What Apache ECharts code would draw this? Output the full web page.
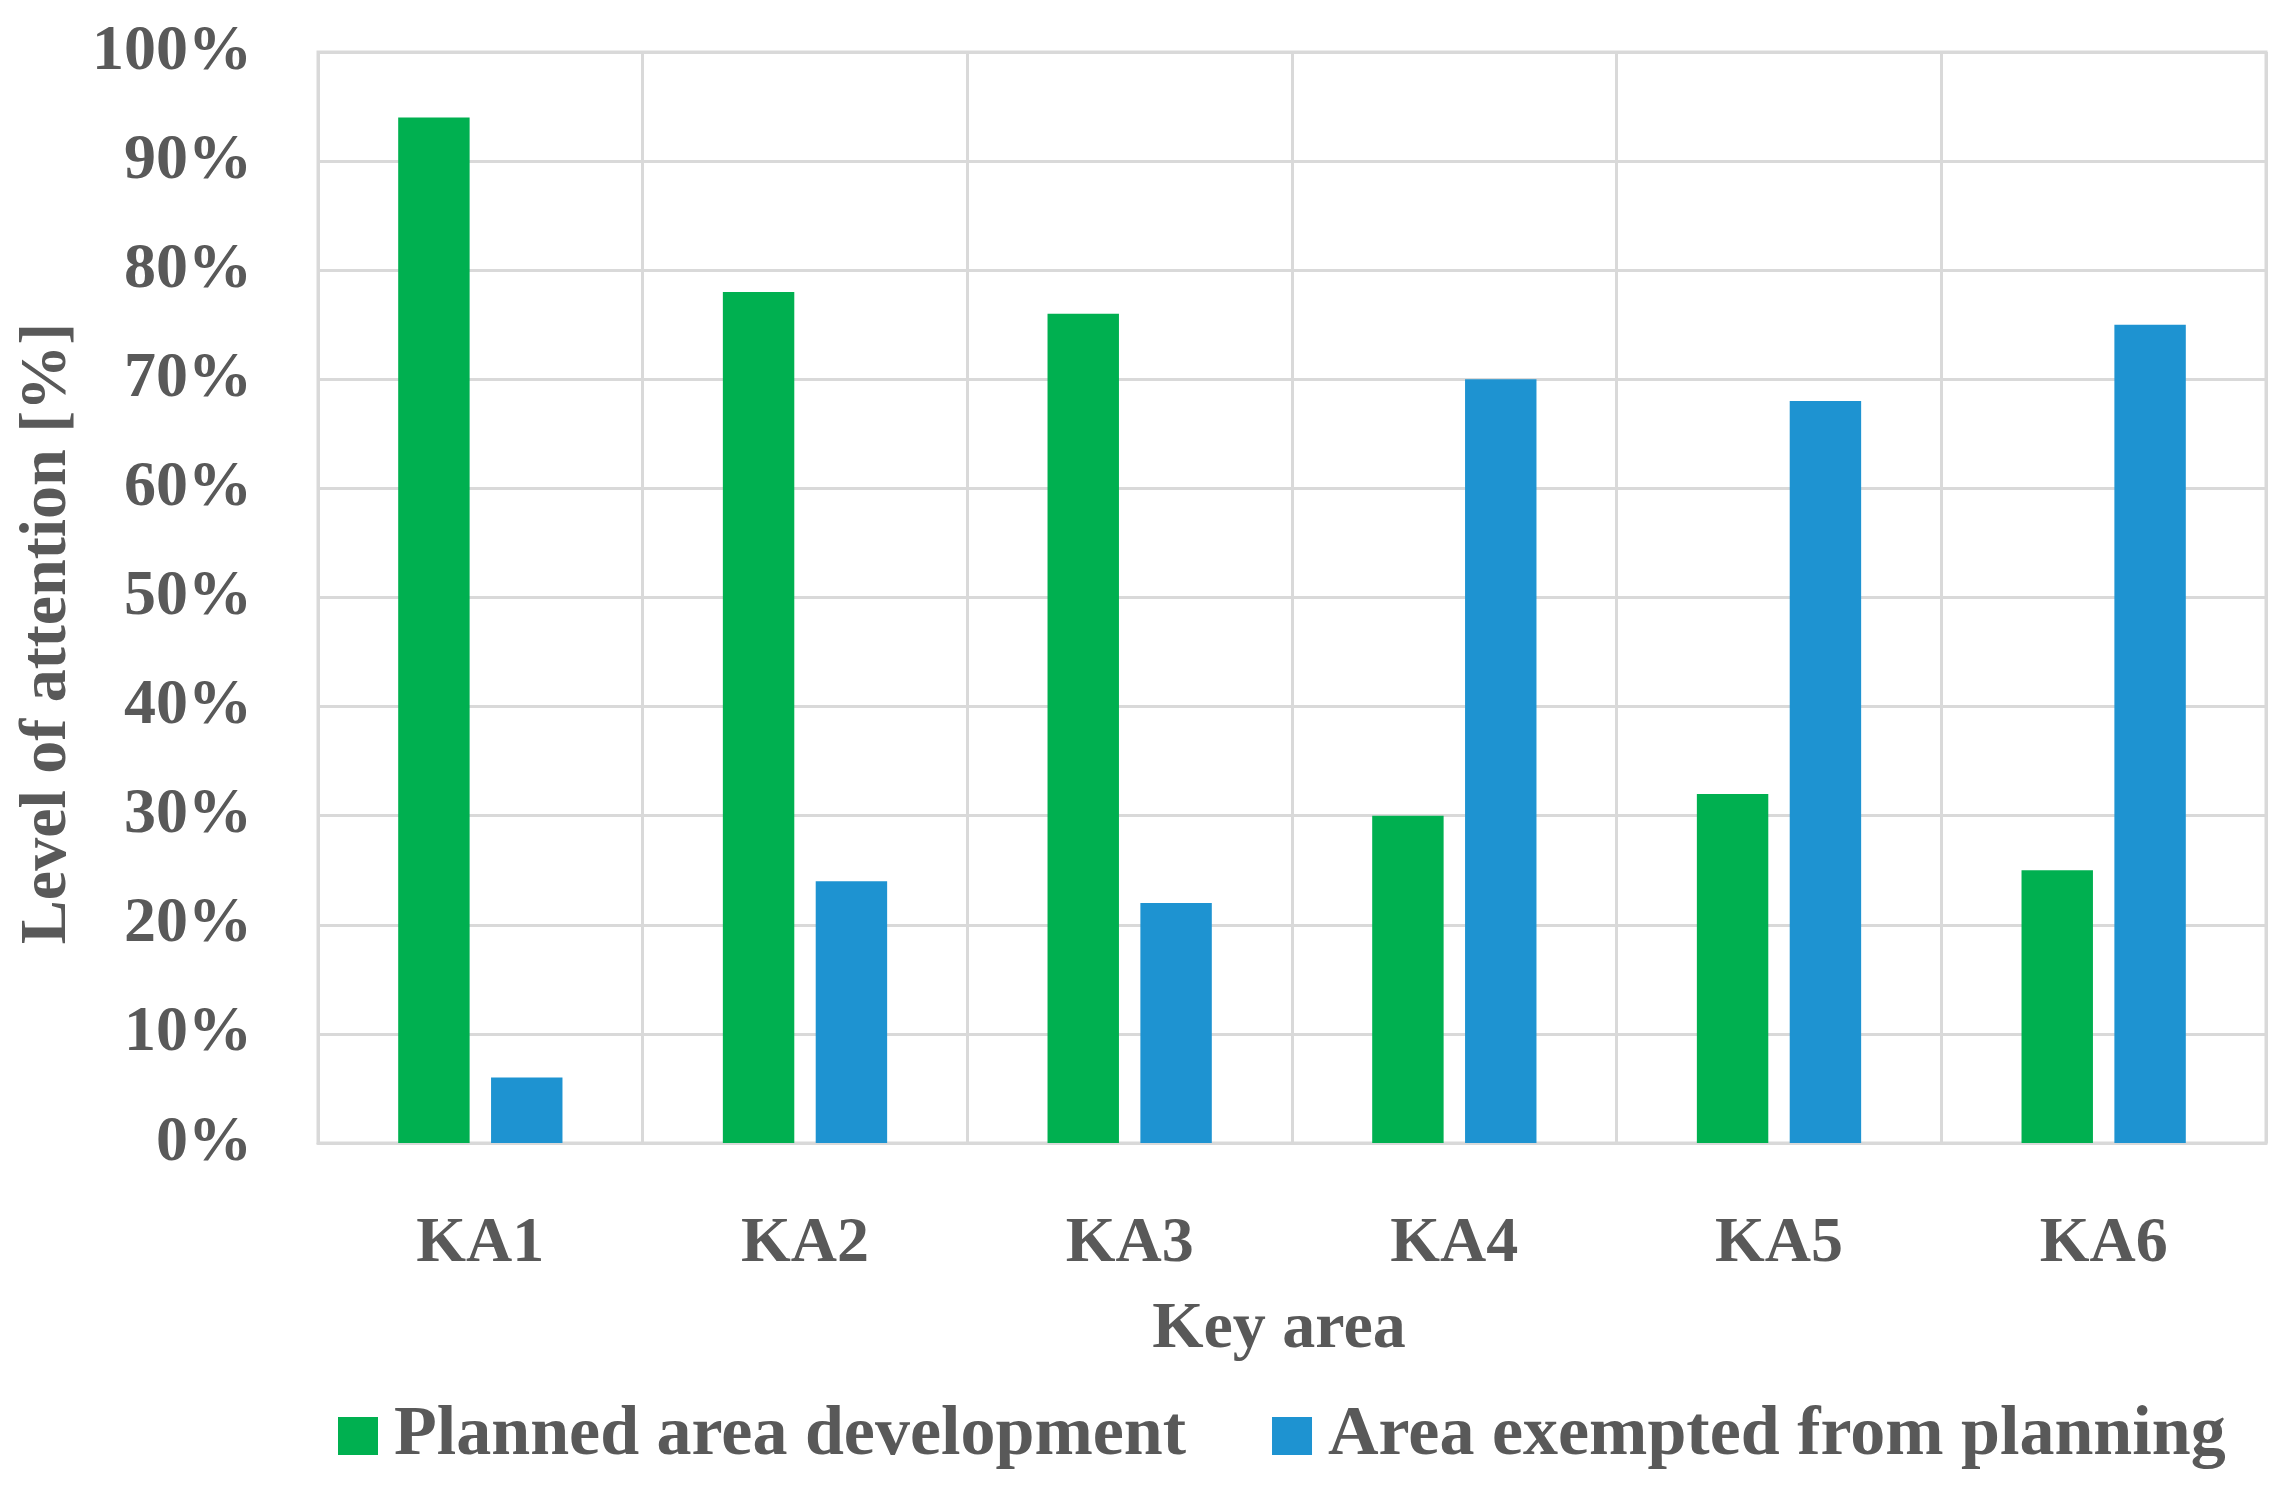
<!DOCTYPE html>
<html>
<head>
<meta charset="utf-8">
<script src="https://cdn.jsdelivr.net/npm/echarts@6/dist/echarts.min.js"></script>
<style>
html,body{margin:0;padding:0;background:#fff;}
#chart{width:2294px;height:1495px;}
</style>
</head>
<body>
<div id="chart"></div>
<script>
const categories = ['KA1', 'KA2', 'KA3', 'KA4', 'KA5', 'KA6'];
const plannedDevelopment = [94, 78, 76, 30, 32, 25];
const exemptedFromPlanning = [6, 24, 22, 70, 68, 75];
const seriesNames = ['Planned area development', 'Area exempted from planning'];
const xAxisTitle = 'Key area';
const yAxisTitle = 'Level of attention [%]';

const FONT = '"Liberation Serif", "DejaVu Serif", serif';
const TEXT = '#595959';
const GRID = '#D9D9D9';

const chart = echarts.init(document.getElementById('chart'));
chart.setOption({
  backgroundColor: '#ffffff',
  animation: false,
  grid: {
    left: 318, right: 28, top: 52, bottom: 352,
    show: true, borderColor: GRID, borderWidth: 3
  },
  legend: {
    data: seriesNames,
    top: 1396,
    left: 333,
    itemWidth: 40,
    itemHeight: 38,
    itemGap: 86,
    icon: 'rect',
    textStyle: {
      fontFamily: FONT, fontWeight: 'bold', fontSize: 70, color: TEXT,
      padding: [0, 0, 0, 11]
    }
  },
  xAxis: {
    type: 'category',
    data: categories,
    name: xAxisTitle,
    nameLocation: 'middle',
    nameGap: 154,
    nameTextStyle: {
      fontFamily: FONT, fontWeight: 'bold', fontSize: 66, color: TEXT,
      padding: [0, 26, 0, 0]
    },
    axisLine: { show: true, lineStyle: { color: GRID, width: 3 } },
    axisTick: { show: false },
    splitLine: { show: true, lineStyle: { color: GRID, width: 3 } },
    axisLabel: { margin: 69, fontFamily: FONT, fontWeight: 'bold', fontSize: 64, color: TEXT }
  },
  yAxis: {
    type: 'value',
    min: 0, max: 100, interval: 10,
    name: yAxisTitle,
    nameLocation: 'middle',
    nameGap: 210,
    nameTextStyle: {
      fontFamily: FONT, fontWeight: 'bold', fontSize: 66, color: TEXT,
      padding: [0, 72, 0, 0]
    },
    axisLine: { show: false },
    axisTick: { show: false },
    splitLine: { show: true, lineStyle: { color: GRID, width: 3 } },
    axisLabel: {
      margin: 66, fontFamily: FONT, fontWeight: 'bold', fontSize: 64, color: TEXT,
      formatter: '{value}%'
    }
  },
  series: [
    {
      name: seriesNames[0], type: 'bar', data: plannedDevelopment,
      barWidth: '22%', barGap: '30%',
      itemStyle: { color: '#00B050' }
    },
    {
      name: seriesNames[1], type: 'bar', data: exemptedFromPlanning,
      barWidth: '22%', barGap: '30%',
      itemStyle: { color: '#1E93D1' }
    }
  ]
});
</script>
</body>
</html>
